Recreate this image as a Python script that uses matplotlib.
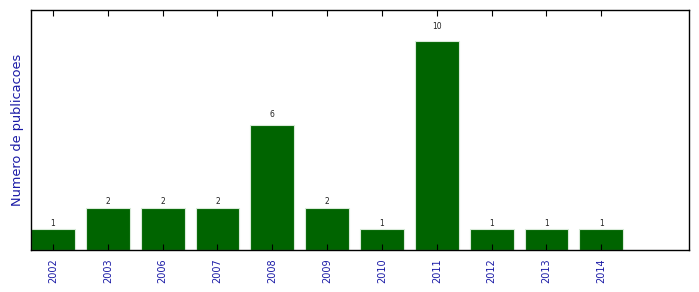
import matplotlib
matplotlib.use("Agg")
import matplotlib.pyplot as plt
import numpy as np

years = ["2002", "2003", "2006", "2007", "2008", "2009", "2010", "2011", "2012", "2013", "2014"]
counts = [1, 2, 2, 2, 6, 2, 1, 10, 1, 1, 1]

fig = plt.figure(figsize=(6.99, 2.92), dpi=100)
ax = fig.add_axes([31 / 699, 42 / 292, 658 / 699, 240 / 292])

x = np.arange(len(years))
bars = ax.bar(x, counts, width=0.8, align="edge", color="#006400",
              edgecolor="#d8ead8", linewidth=0.8)

for b, v in zip(bars, counts):
    ax.text(b.get_x() + b.get_width() / 2, 1.05 * v, str(v),
            ha="center", va="bottom", fontsize=5.5, color="#222222")

ax.set_xlim(0, 12)
ax.set_ylim(0, 11.5)
ax.set_xticks(x + 0.4)
ax.set_xticklabels(years, rotation=90, fontsize=7, color="#1a1aa6")
ax.tick_params(axis="x", direction="in", top=True, length=4, width=0.8, pad=6)
ax.set_yticks([])
ax.set_ylabel("Numero de publicacoes", fontsize=9.3, color="#1a1aa6", labelpad=5)
for s in ax.spines.values():
    s.set_linewidth(1.0)

fig.savefig("out.png", dpi=100)
